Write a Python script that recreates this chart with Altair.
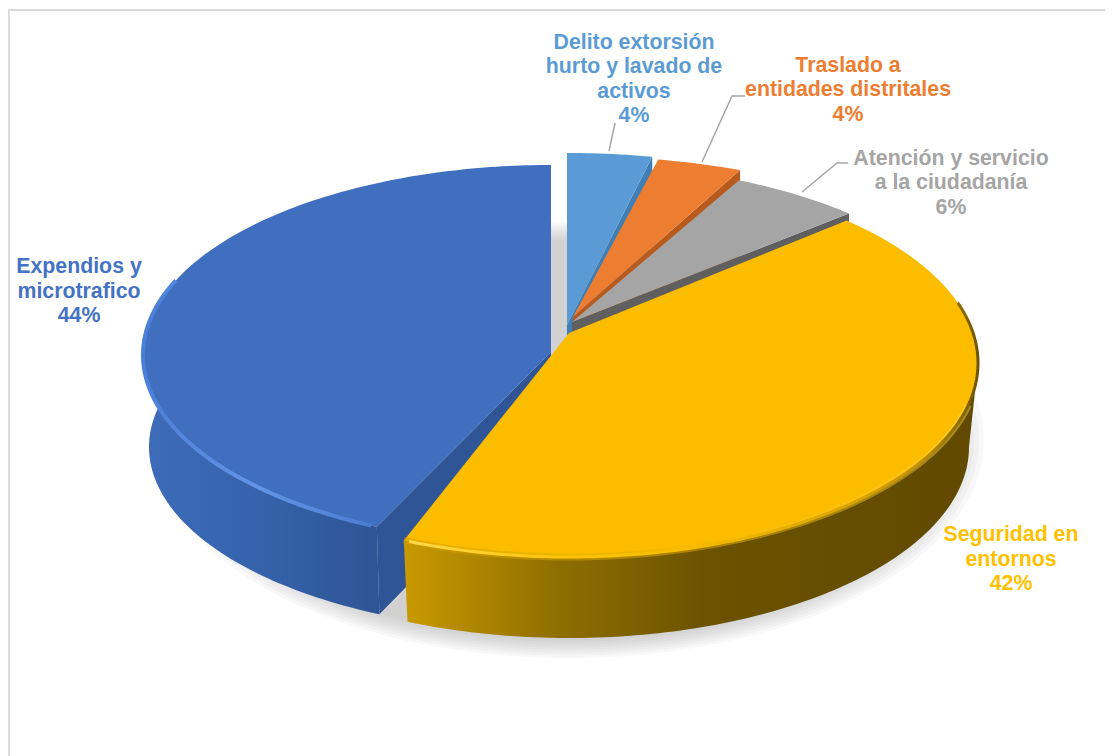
import math
import altair as alt
import pandas as pd

# ---- chart content
categories = ["Delito extorsión hurto y lavado de activos", "Traslado a entidades distritales",
              "Atención y servicio a la ciudadanía", "Seguridad en entornos", "Expendios y microtrafico"]
values = [3.7, 3.7, 5.6, 43.0, 44.0]
top_colors = ["#5b9bd5", "#ed7d31", "#a5a5a5", "#fcbc00", "#416fc0"]
face_colors = ["#3f7fb5", "#b85a1c", "#5f5f5f", "#8a6a00", "#2f5597"]
text_colors = ["#5b9bd5", "#ed7d31", "#a5a5a5", "#ffc000", "#4472c4"]

label_lines = [
    ["Delito extorsión", "hurto y lavado de", "activos", "4%"],
    ["Traslado a", "entidades distritales", "4%"],
    ["Atención y servicio", "a la ciudadanía", "6%"],
    ["Seguridad en", "entornos", "42%"],
    ["Expendios y", "microtrafico", "44%"],
]
label_x = [634, 848, 951, 1011, 79]
label_y = [42.5, 65.5, 158.5, 535, 267]
line_step = 24.5

# exploded-slice placement and perspective, per slice: tip, rim ellipse, x-perspective
apex_x = [567, 573, 572, 569, 551]
apex_y = [325, 317, 322, 333, 352]
rim_cy = [325, 317, 350, 363, 355]
rim_a = [408, 408, 408, 409, 408]
rim_b = [172, 161, 186, 194, 190]
persp = [0.1, 0.1, 0.1, 0.1, 0.16]
# lower edge of the pie's side wall
base_cy = [400, 400, 400, 447, 447]
base_a = [400, 400, 400, 400, 402]
base_b = [172, 161, 186, 191, 185]
face_depth = 87

leaders = [
    [(615, 123), (609, 151)],
    [(745, 96), (732, 96), (702, 162)],
    [(848, 163), (837, 163), (802, 192)],
]
leader_color = "#a6a6a6"
frame_color = "#d9d9d9"

X = alt.X("x:Q", scale=alt.Scale(domain=[8, 1105]), axis=None)
Y = alt.Y("y:Q", scale=alt.Scale(domain=[756, 8]), axis=None)

cum = [0]
for v in values:
    cum.append(cum[-1] + v)


def unit(s, f):
    t = 2 * math.pi * f
    xx, zz = math.sin(t), math.cos(t)
    k = persp[s]
    xn = xx / (1 + k * zz) * math.sqrt(1 - k * k)
    xn = max(-1.0, min(1.0, xn))
    yn = math.sqrt(1 - xn * xn) * (1 if zz + k >= 0 else -1)
    return xn, yn


def rim(s, f):
    xn, yn = unit(s, f)
    return (apex_x[s] + rim_a[s] * xn, rim_cy[s] - rim_b[s] * yn)


def base(s, f):
    xn, yn = unit(s, f)
    return (apex_x[s] + base_a[s] * xn, base_cy[s] - base_b[s] * yn)


def fracs(f0, f1):
    n = max(2, int(abs(f1 - f0) * 360))
    return [f0 + (f1 - f0) * i / n for i in range(n + 1)]


def arc(s, f0, f1):
    return [rim(s, f) for f in fracs(f0, f1)]


def base_arc(s, f0, f1):
    return [base(s, f) for f in fracs(f0, f1)]


def shape(pts, fill=None, stroke=None, width=0, opacity=1):
    df = pd.DataFrame({"x": [p[0] for p in pts], "y": [p[1] for p in pts], "i": range(len(pts))})
    kw = {"opacity": opacity, "interpolate": "linear", "clip": False}
    if fill is not None:
        kw["fill"] = fill
    kw["stroke"] = stroke if stroke is not None else (fill if isinstance(fill, str) else "transparent")
    kw["strokeWidth"] = width
    return alt.Chart(df).mark_line(**kw).encode(x=X, y=Y, order="i:Q")


def grad(stops):
    return {"gradient": "linear", "x1": 0, "y1": 0, "x2": 1, "y2": 0,
            "stops": [{"offset": o, "color": c} for o, c in stops]}


layers = []

# frame (top and left edges)
layers.append(shape([(8.75, 756), (8.75, 10), (1105, 10)], stroke=frame_color, width=2))

# soft ground shadow
for i in range(8):
    g = 1 - i * 0.012
    ell = [(569 + 415 * g * math.sin(2 * math.pi * j / 240),
            440 + 218 * g * math.cos(2 * math.pi * j / 240)) for j in range(241)]
    layers.append(shape(ell, fill="#9a9aa0", opacity=0.07))

# small back slices, back to front
for s in [0, 1, 2]:
    e = arc(s, cum[s] / 100, cum[s + 1] / 100)
    ap = (apex_x[s], apex_y[s])
    face = [ap, e[-1], (e[-1][0], e[-1][1] + face_depth), (ap[0], ap[1] + face_depth), ap]
    layers.append(shape(face, fill=face_colors[s]))
    layers.append(shape([ap] + e + [ap], fill=top_colors[s]))

# blue slice
s = 4
f0, f1 = cum[4] / 100, 1.0
e = arc(s, f0, f1)
ap = (apex_x[s], apex_y[s])
w = arc(s, f0, 0.77)
wb = base_arc(s, f0, 0.77)
layers.append(shape(w + wb[::-1] + [w[0]], fill=grad([(0, "#3f6cb8"), (0.5, "#3562ab"), (1, "#2e5595")])))
layers.append(shape([ap, e[0], base(s, f0), (ap[0], ap[1] + face_depth), ap], fill=face_colors[4]))
layers.append(shape([ap] + e + [ap], fill=top_colors[4]))
layers.append(shape(arc(s, f0 + 0.002, 0.79), stroke=grad([(0, "#4a7fd8"), (0.5, "#6395e6"), (1, "#4a7bd0")]),
                    width=4))

# yellow slice
s = 3
f0, f1 = cum[3] / 100, cum[4] / 100
e = arc(s, f0, f1)
ap = (apex_x[s], apex_y[s])
w = arc(s, 0.266, f1)
wb = base_arc(s, 0.266, f1)
layers.append(shape(w + wb[::-1] + [w[0]],
                    fill=grad([(0, "#c99a00"), (0.27, "#8f6e00"), (0.52, "#6c5300"), (1, "#604900")])))
layers.append(shape([ap] + e + [ap], fill=top_colors[3]))
layers.append(shape(arc(s, 0.30, f1), stroke=grad([(0, "#c89a00"), (0.5, "#f0b400"), (1, "#ffd84a")]),
                    width=7, opacity=0.45))
layers.append(shape(arc(s, 0.215, f1 - 0.002),
                    stroke=grad([(0, "#ffd84a"), (0.25, "#fcc60c"), (0.5, "#f6bb00"), (0.8, "#d8a300"),
                                 (0.9, "#c09000"), (0.97, "#8a6a00"), (1, "#6e5400")]), width=3))

# leader lines
for pts in leaders:
    layers.append(shape(pts, stroke=leader_color, width=1.5))

# labels
rows = []
for s, lines in enumerate(label_lines):
    for j, txt in enumerate(lines):
        rows.append({"x": label_x[s], "y": label_y[s] + j * line_step, "t": txt, "c": text_colors[s]})
text = alt.Chart(pd.DataFrame(rows)).mark_text(
    font="Liberation Sans", fontWeight="bold", fontSize=21.3, align="center", baseline="middle"
).encode(x=X, y=Y, text="t:N", color=alt.Color("c:N", scale=None, legend=None))
layers.append(text)

chart = alt.layer(*layers).properties(
    width=1097, height=748, padding=0, background="white",
    autosize=alt.AutoSizeParams(type="none")
).configure_view(stroke=None)

chart.save("out.html", embed_options={"renderer": "svg", "actions": False})
